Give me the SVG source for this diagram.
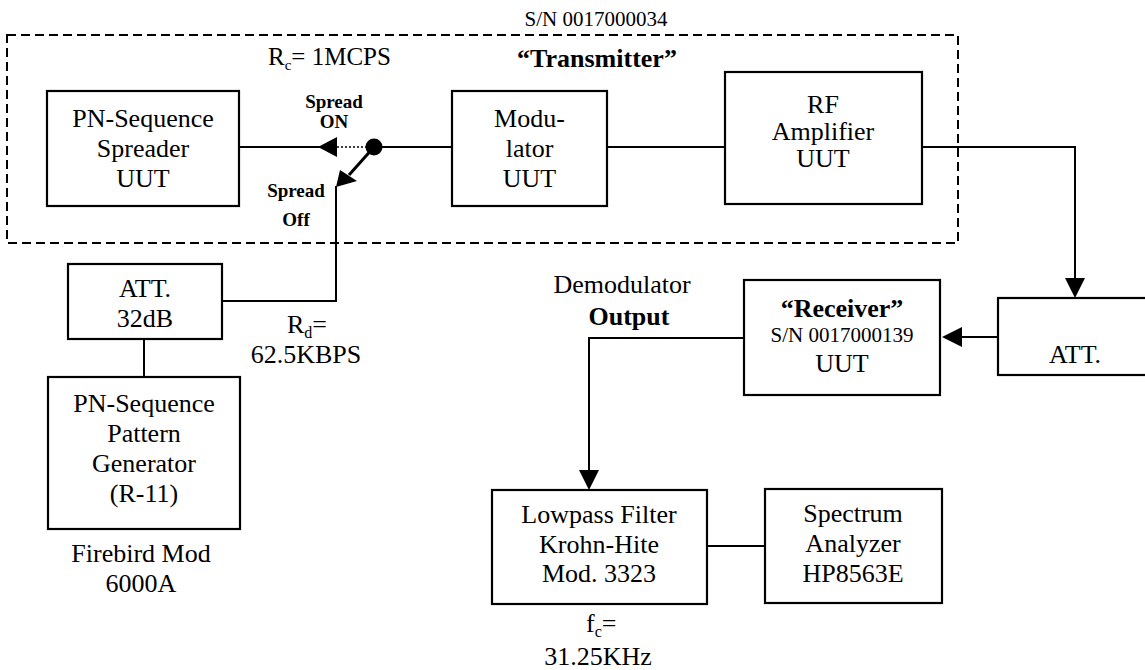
<svg xmlns="http://www.w3.org/2000/svg" width="1145" height="670" viewBox="0 0 1145 670" font-family="'Liberation Serif', 'Times New Roman', 'DejaVu Serif', serif">
<style>
text{font-family:'Liberation Serif','Times New Roman','DejaVu Serif',serif;fill:#000}
.t{font-size:26px;text-anchor:middle}
.s{font-size:19px;text-anchor:middle;font-weight:bold}
.b{font-weight:bold}
.box{fill:#fff;stroke:#000;stroke-width:2.2}
.ln{fill:none;stroke:#000;stroke-width:2}
.ah{fill:#000;stroke:none}
</style>
<rect width="1145" height="670" fill="#fff"/>
<g id="transmitter-group">
<rect x="7" y="35" width="951" height="208" fill="none" stroke="#000" stroke-width="2" stroke-dasharray="9,5"/>
<text x="596" y="26" font-size="21" text-anchor="middle" font-family="Liberation Serif, serif">S/N 0017000034</text>
<text x="268" y="65" font-size="25" font-family="Liberation Serif, serif">R<tspan font-size="15" dy="5">c</tspan><tspan dy="-5">= 1MCPS</tspan></text>
<text x="597" y="67" font-size="26" text-anchor="middle" class="b" font-family="Liberation Serif, serif">“Transmitter”</text>
</g>
<g id="connectors">
<line class="ln" x1="239" y1="147" x2="320" y2="147"/>
<polygon class="ah" points="318,147 337,137 337,157"/>
<line x1="337" y1="147" x2="366" y2="147" stroke="#000" stroke-width="1.5" stroke-dasharray="2,2"/>
<line class="ln" x1="374" y1="147" x2="452" y2="147"/>
<circle cx="374" cy="147" r="8.5" fill="#000"/>
<line x1="374" y1="147" x2="349" y2="175" stroke="#000" stroke-width="3"/>
<polygon class="ah" points="336,187 340,170 357,181"/>
<polyline class="ln" points="336,186 336,301 222,301"/>
<line class="ln" x1="607" y1="147" x2="725" y2="147"/>
<polyline class="ln" points="922,147 1075,147 1075,280"/>
<polygon class="ah" points="1075,298 1065,278 1085,278"/>
<line class="ln" x1="998" y1="337" x2="960" y2="337"/>
<polygon class="ah" points="942,337 962,327 962,347"/>
<polyline class="ln" points="744,338 589,338 589,472"/>
<polygon class="ah" points="589,490 579,470 599,470"/>
<line class="ln" x1="707" y1="546" x2="765" y2="546"/>
<line class="ln" x1="144" y1="339" x2="144" y2="377"/>
</g>
<g id="pn-spreader">
<rect class="box" x="47" y="91" width="192" height="115"/>
<text class="t" x="143" y="127">PN-Sequence</text>
<text class="t" x="143" y="157">Spreader</text>
<text class="t" x="143" y="187">UUT</text>
</g>
<g id="switch-labels">
<text class="s" x="334" y="108">Spread</text>
<text class="s" x="334" y="128">ON</text>
<text class="s" x="296" y="197">Spread</text>
<text class="s" x="296" y="226">Off</text>
</g>
<g id="modulator">
<rect class="box" x="452" y="91" width="155" height="115"/>
<text class="t" x="529.5" y="127">Modu-</text>
<text class="t" x="529.5" y="157">lator</text>
<text class="t" x="529.5" y="187">UUT</text>
</g>
<g id="rf-amplifier">
<rect class="box" x="725" y="72" width="197" height="132"/>
<text class="t" x="823" y="113">RF</text>
<text class="t" x="823" y="140">Amplifier</text>
<text class="t" x="823" y="167">UUT</text>
</g>
<g id="att-32db">
<rect class="box" x="68" y="264" width="154" height="75"/>
<text class="t" x="145" y="297">ATT.</text>
<text class="t" x="145" y="327">32dB</text>
</g>
<g id="rd-label">
<text x="287" y="333" font-size="26">R<tspan font-size="16" dy="5">d</tspan><tspan dy="-5">=</tspan></text>
<text class="t" x="306" y="363">62.5KBPS</text>
</g>
<g id="pn-generator">
<rect class="box" x="48" y="377" width="192" height="152"/>
<text class="t" x="144" y="412">PN-Sequence</text>
<text class="t" x="144" y="442">Pattern</text>
<text class="t" x="144" y="472">Generator</text>
<text class="t" x="144" y="502">(R-11)</text>
<text class="t" x="141" y="562">Firebird Mod</text>
<text class="t" x="141" y="592">6000A</text>
</g>
<g id="demod-label">
<text class="t" x="622" y="293">Demodulator</text>
<text class="t b" x="629" y="325">Output</text>
</g>
<g id="receiver">
<rect class="box" x="744" y="280" width="196" height="115"/>
<text class="t b" x="842" y="317">“Receiver”</text>
<text x="842" y="342" font-size="21" text-anchor="middle">S/N 0017000139</text>
<text class="t" x="842" y="372">UUT</text>
</g>
<g id="att-right">
<rect class="box" x="998" y="298" width="160" height="77"/>
<text class="t" x="1075" y="363">ATT.</text>
</g>
<g id="lowpass">
<rect class="box" x="492" y="490" width="215" height="114"/>
<text class="t" x="599" y="523">Lowpass Filter</text>
<text class="t" x="599" y="553">Krohn-Hite</text>
<text class="t" x="599" y="582">Mod. 3323</text>
<text x="586" y="632" font-size="26">f<tspan font-size="16" dy="5">c</tspan><tspan dy="-5">=</tspan></text>
<text class="t" x="598" y="665">31.25KHz</text>
</g>
<g id="spectrum">
<rect class="box" x="765" y="489" width="177" height="114"/>
<text class="t" x="853" y="522">Spectrum</text>
<text class="t" x="853" y="552">Analyzer</text>
<text class="t" x="853" y="582">HP8563E</text>
</g>
</svg>
